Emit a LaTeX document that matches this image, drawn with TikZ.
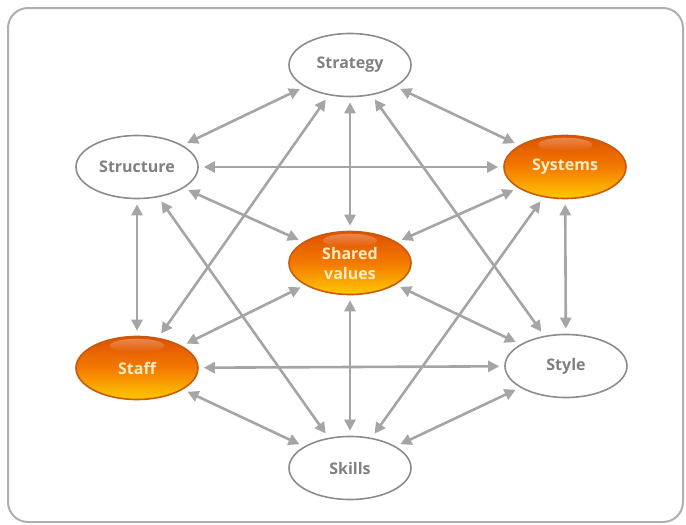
\documentclass[tikz,border=0pt]{standalone}
\usepackage{fontspec}
\setmainfont{Open Sans}
\usetikzlibrary{arrows.meta,shapes.geometric,calc}
\definecolor{arrgray}{RGB}{165,165,165}
\definecolor{edgegray}{RGB}{140,140,140}
\definecolor{txtgray}{RGB}{128,128,128}
\definecolor{orTop}{RGB}{222,80,0}
\definecolor{orMid}{RGB}{243,122,0}
\definecolor{orBot}{RGB}{255,200,0}
\definecolor{orEdge}{RGB}{200,90,15}
\definecolor{orText}{RGB}{255,236,195}
\definecolor{framegray}{RGB}{175,175,175}
\tikzset{
  wnode/.style={ellipse, draw=edgegray, line width=1.6pt, fill=white,
    minimum width=122pt, minimum height=63pt, inner sep=0pt,
    font=\fontsize{16}{20}\selectfont\bfseries, text=txtgray, align=center},
  onode/.style={wnode, draw=orEdge, top color=orTop, bottom color=orBot,
    middle color=orMid, text=orText},
  arr/.style={draw=arrgray, line width=2.6pt,
    {Triangle[length=11pt,width=11pt]}-{Triangle[length=11pt,width=11pt]},
    shorten >=5pt, shorten <=5pt},
  gloss/.style={top color=white, bottom color=orTop, opacity=0.3, draw=none},
  framebox/.style={draw=framegray, line width=2pt, rounded corners=20pt}
}
\begin{document}
\begin{tikzpicture}[x=1pt,y=-1pt]
\useasboundingbox (0,0) rectangle (686,525);
\draw[framebox] (8,8) rectangle (683,522);

\node[wnode] (strategy) at (350,65) {Strategy};
\node[wnode] (structure) at (137,167) {Structure};
\node[onode] (systems) at (565,167) {Systems};
\node[onode] (shared) at (350,263) {Shared\\values};
\node[onode] (staff) at (137,368) {Staff};
\node[wnode] (style) at (566,366) {Style};
\node[wnode] (skills) at (350,468) {Skills};

\foreach \n in {systems,shared,staff}{
  \shade[gloss] ($(\n.north)+(0,10)$) ellipse (27 and 7);
}

\draw[arr] (strategy) -- (structure);
\draw[arr] (strategy) -- (systems);
\draw[arr] (strategy) -- (shared);
\draw[arr] (strategy) -- (staff);
\draw[arr] (strategy) -- (style);
\draw[arr] (structure) -- (systems);
\draw[arr] (structure) -- (shared);
\draw[arr] (structure) -- (staff);
\draw[arr] (structure) -- (skills);
\draw[arr] (systems) -- (shared);
\draw[arr] (systems) -- (style);
\draw[arr] (systems) -- (skills);
\draw[arr] (shared) -- (staff);
\draw[arr] (shared) -- (style);
\draw[arr] (shared) -- (skills);
\draw[arr] (staff) -- (style);
\draw[arr] (staff) -- (skills);
\draw[arr] (style) -- (skills);
\end{tikzpicture}
\end{document}
